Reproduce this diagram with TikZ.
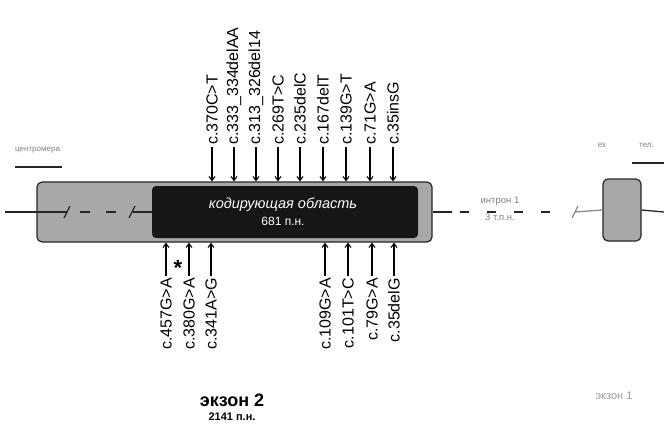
\documentclass[tikz,border=0pt]{standalone}
\usepackage{fontspec}
\setmainfont{Liberation Sans}
\usetikzlibrary{arrows.meta}
\definecolor{exgray}{RGB}{168,168,168}
\definecolor{cdsblack}{RGB}{22,22,22}
\newcommand{\fs}[1]{\fontsize{#1}{#1}\selectfont}
\tikzset{
  exon/.style={draw=black!85,line width=1.2pt,rounded corners=5pt,fill=exgray,inner sep=0pt},
  cds/.style={fill=cdsblack,rounded corners=4pt,inner sep=0pt},
  gline/.style={line width=1.3pt,black!85},
  arr/.style={-{Straight Barb[length=4pt,width=6pt]},line width=1.1pt},
  mut/.style={rotate=90,font=\fs{16},inner sep=2pt},
  faded/.style={font=\fs{8},text=black!50,inner sep=1pt}
}
\begin{document}
\begin{tikzpicture}[x=1pt,y=-1pt]
  \useasboundingbox (0,0) rectangle (664,425);
  \node[faded,anchor=west] (cen) at (14,150) {центромера};
  \draw[gline] (15,167) -- (62,167);
  \node[faded] (exr) at (602,145) {ex};
  \node[faded,anchor=west] (tel) at (638,145) {тел.};
  \draw[gline] (632,163) -- (664,163);
  \node[exon,minimum width=395pt,minimum height=60pt] (e2) at (234.5,212) {};
  \coordinate (l0) at (5,212);
  \draw[gline] (l0) -- (67,212); \draw[gline] (64,218) -- (70,206);
  \draw[gline,dash pattern=on 10pt off 16pt] (80,212) -- (120,212);
  \draw[gline] (129,218) -- (135,206); \draw[gline] (133,212) -- (152,212);
  \node[cds,minimum width=266pt,minimum height=52pt] (c) at (285,212) {};
  \node[text=white,align=center] (ct) at (283,212)
    {{\fs{14.5}\itshape кодирующая область}\\[5pt]{\fs{12}681 п.н.}};
  \node[exon,minimum width=38pt,minimum height=62pt] (e1) at (622,210) {};
  \coordinate (r0) at (664,212);
  \draw[gline] (e2.east) -- (452,212);
  \draw[gline,dash pattern=on 9pt off 18pt] (460,212) -- (552,212);
  \draw[gline,black!45] (572,218) -- (578,206); \draw[gline,black!45] (575,212) -- (e1.west);
  \draw[gline] (e1.east) -- (r0);
  \node[faded,font=\fs{9.5},align=center] (intr) at (500,209) {интрон 1\\[8pt]3 т.п.н.};
  \node[mut,anchor=west] (t1) at (212,147) {c.370C>T};
  \node[mut,anchor=west] (t2) at (234,147) {c.333\_334delAA};
  \node[mut,anchor=west] (t3) at (256,147) {c.313\_326del14};
  \node[mut,anchor=west] (t4) at (278,147) {c.269T>C};
  \node[mut,anchor=west] (t5) at (300,147) {c.235delC};
  \node[mut,anchor=west] (t6) at (323,147) {c.167delT};
  \node[mut,anchor=west] (t7) at (346,147) {c.139G>T};
  \node[mut,anchor=west] (t8) at (370,147) {c.71G>A};
  \node[mut,anchor=west] (t9) at (393,147) {c.35insG};
  \draw[arr] (t1.west)--(t1.west|-e2.north); \draw[arr] (t2.west)--(t2.west|-e2.north);
  \draw[arr] (t3.west)--(t3.west|-e2.north); \draw[arr] (t4.west)--(t4.west|-e2.north);
  \draw[arr] (t5.west)--(t5.west|-e2.north); \draw[arr] (t6.west)--(t6.west|-e2.north);
  \draw[arr] (t7.west)--(t7.west|-e2.north); \draw[arr] (t8.west)--(t8.west|-e2.north);
  \draw[arr] (t9.west)--(t9.west|-e2.north);
  \node[mut,anchor=east] (b1) at (166,276) {c.457G>A};
  \node[mut,anchor=east] (b2) at (189,276) {c.380G>A};
  \node[mut,anchor=east] (b3) at (211,276) {c.341A>G};
  \node[mut,anchor=east] (b4) at (325,276) {c.109G>A};
  \node[mut,anchor=east] (b5) at (348,276) {c.101T>C};
  \node[mut,anchor=east] (b6) at (372,276) {c.79G>A};
  \node[mut,anchor=east] (b7) at (394,276) {c.35delG};
  \draw[arr] (b1.east)--(b1.east|-e2.south); \draw[arr] (b2.east)--(b2.east|-e2.south);
  \draw[arr] (b3.east)--(b3.east|-e2.south); \draw[arr] (b4.east)--(b4.east|-e2.south);
  \draw[arr] (b5.east)--(b5.east|-e2.south); \draw[arr] (b6.east)--(b6.east|-e2.south);
  \draw[arr] (b7.east)--(b7.east|-e2.south);
  \node[font=\fs{22}\bfseries,inner sep=0pt] (ast) at (178,268) {*};
  \node[font=\fs{18}\bfseries] (ex2) at (232,400) {экзон 2};
  \node[font=\fs{11}\bfseries] (len2) at (232,417) {2141 п.н.};
  \node[faded,font=\fs{11},text=black!40] (ex1) at (614,396) {экзон 1};
\end{tikzpicture}
\end{document}
